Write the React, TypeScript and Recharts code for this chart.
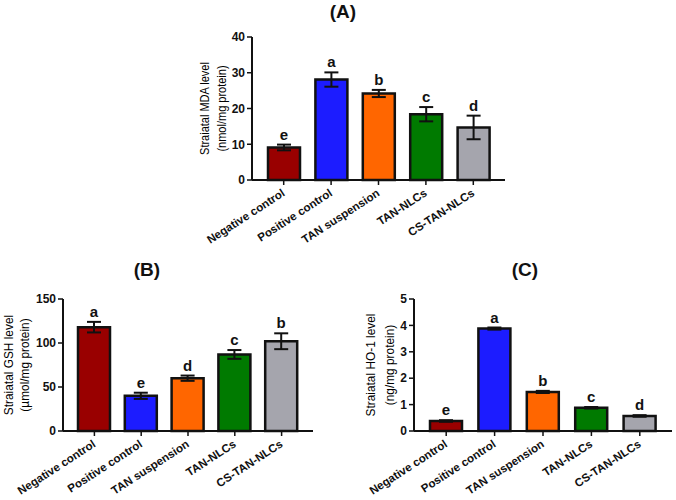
import { BarChart, Bar, XAxis, YAxis, ErrorBar, Cell, LabelList, Label } from "recharts";

const groups = ["Negative control", "Positive control", "TAN suspension", "TAN-NLCs", "CS-TAN-NLCs"];
const colors = ["#990000", "#1c1cff", "#ff6600", "#007a00", "#a5a5ad"];

const mdaValues = [9.1, 28.1, 24.2, 18.4, 14.7];
const mdaErrors = [0.8, 2.0, 1.0, 2.0, 3.3];
const mdaLetters = ["e", "a", "b", "c", "d"];
const mdaTicks = [0, 10, 20, 30, 40];

const gshValues = [118, 40, 60, 87, 102];
const gshErrors = [6, 3.5, 3, 5, 9];
const gshLetters = ["a", "e", "d", "c", "b"];
const gshTicks = [0, 50, 100, 150];

const hoValues = [0.38, 3.88, 1.48, 0.88, 0.57];
const hoErrors = [0.03, 0.04, 0.04, 0.03, 0.03];
const hoLetters = ["e", "a", "b", "c", "d"];
const hoTicks = [0, 1, 2, 3, 4, 5];

const FONT = "'Liberation Sans', Arial, sans-serif";

const XTick = (props: any) => {
  const { x, y, payload } = props;
  const ax = x + 2;
  const ay = y + 8;
  return (
    <g transform={`translate(${ax} ${ay})`}>
      <text
        x={0}
        y={0}
        transform="rotate(-33)"
        textAnchor="end"
        fontSize={11.5}
        fontWeight="bold"
        fontFamily={FONT}
        fill="#111"
      >
        {payload.value}
      </text>
    </g>
  );
};

type PanelProps = {
  title: string;
  titleX: number;
  titleY: number;
  left: number;
  top: number;
  width: number;
  height: number;
  margin: { top: number; right: number; left: number; bottom: number };
  yWidth: number;
  xHeight: number;
  values: number[];
  errors: number[];
  letters: string[];
  ticks: number[];
  yLines: string[];
  yLabelX: number[];
  yLabelScale: number;
};

function Panel(p: PanelProps) {
  const data = groups.map((g, i) => ({
    name: g,
    value: p.values[i],
    err: p.errors[i],
    letter: p.letters[i],
  }));

  const renderLetter = (props: any) => {
    const vb = props.viewBox ?? props;
    const { x, y, width, height } = vb;
    const i = props.index;
    const errPx = (height / p.values[i]) * p.errors[i];
    return (
      <text
        x={x + width / 2}
        y={y - errPx - 5}
        textAnchor="middle"
        fontSize={15}
        fontWeight="bold"
        fontFamily={FONT}
        fill="#111"
      >
        {p.letters[i]}
      </text>
    );
  };

  const renderYLabel = (props: any) => {
    const vb = props.viewBox;
    const cy = vb.y + vb.height / 2;
    return (
      <g>
        {p.yLines.map((line, i) => (
          <text
            key={i}
            x={0}
            y={0}
            transform={`translate(${p.yLabelX[i]} ${cy}) rotate(-90) scale(${p.yLabelScale} 1)`}
            textAnchor="middle"
            dominantBaseline="central"
            fontSize={12.5}
            fontFamily={FONT}
            fill="#000"
          >
            {line}
          </text>
        ))}
      </g>
    );
  };

  return (
    <>
      <div
        style={{
          position: "absolute",
          left: p.titleX - 50,
          top: p.titleY - 10,
          width: 100,
          lineHeight: "20px",
          textAlign: "center",
          fontFamily: FONT,
          fontWeight: "bold",
          fontSize: 19,
          color: "#111",
        }}
      >
        {p.title}
      </div>
      <div style={{ position: "absolute", left: p.left, top: p.top }}>
        <BarChart width={p.width} height={p.height} data={data} margin={p.margin}>
          <XAxis
            dataKey="name"
            height={p.xHeight}
            interval={0}
            padding={{ left: 8, right: 8 }}
            tick={<XTick />}
            tickSize={5}
            axisLine={{ stroke: "#111", strokeWidth: 2 }}
            tickLine={{ stroke: "#111", strokeWidth: 1.5 }}
          />
          <YAxis
            width={p.yWidth}
            domain={[0, p.ticks[p.ticks.length - 1]]}
            ticks={p.ticks}
            tickSize={5}
            tick={{ fontSize: 12, fontWeight: "bold", fontFamily: FONT, fill: "#111" }}
            axisLine={{ stroke: "#111", strokeWidth: 2 }}
            tickLine={{ stroke: "#111", strokeWidth: 1.5 }}
          >
            <Label content={renderYLabel} />
          </YAxis>
          <Bar dataKey="value" barSize={32} stroke="#111" strokeWidth={2.5} isAnimationActive={false}>
            {data.map((_d, i) => (
              <Cell key={`c-${i}`} fill={colors[i]} />
            ))}
            <ErrorBar dataKey="err" width={7} stroke="#111" strokeWidth={2} />
            <LabelList dataKey="letter" content={renderLetter} />
          </Bar>
        </BarChart>
      </div>
    </>
  );
}

export default function App() {
  return (
    <div style={{ position: "absolute", left: 0, top: 0, width: 676, height: 500, background: "#fff" }}>
      <Panel
        title="(A)"
        titleX={343}
        titleY={12}
        left={160}
        top={0}
        width={360}
        height={250}
        margin={{ top: 37, right: 15, left: 0, bottom: 0 }}
        yWidth={92}
        xHeight={70}
        values={mdaValues}
        errors={mdaErrors}
        letters={mdaLetters}
        ticks={mdaTicks}
        yLines={["Straiatal MDA level", "(nmol/mg protein)"]}
        yLabelX={[44, 61]}
        yLabelScale={0.88}
      />
      <Panel
        title="(B)"
        titleX={147}
        titleY={270}
        left={0}
        top={250}
        width={330}
        height={250}
        margin={{ top: 49, right: 17, left: 0, bottom: 0 }}
        yWidth={63}
        xHeight={69}
        values={gshValues}
        errors={gshErrors}
        letters={gshLetters}
        ticks={gshTicks}
        yLines={["Straiatal GSH level", "(µmol/mg protein)"]}
        yLabelX={[9, 25]}
        yLabelScale={0.95}
      />
      <Panel
        title="(C)"
        titleX={525}
        titleY={270}
        left={340}
        top={250}
        width={336}
        height={250}
        margin={{ top: 49, right: 4, left: 0, bottom: 0 }}
        yWidth={74}
        xHeight={69}
        values={hoValues}
        errors={hoErrors}
        letters={hoLetters}
        ticks={hoTicks}
        yLines={["Straiatal HO-1 level", "(ng/mg protein)"]}
        yLabelX={[31, 50]}
        yLabelScale={0.95}
      />
    </div>
  );
}
